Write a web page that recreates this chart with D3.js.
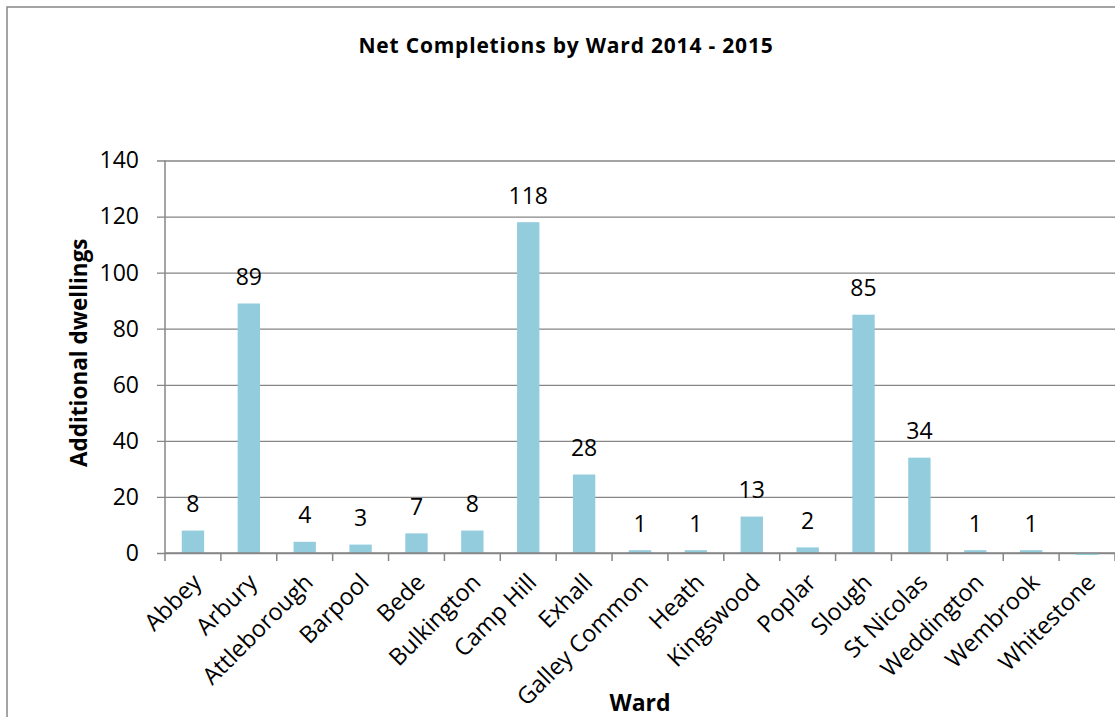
<!DOCTYPE html>
<html>
<head>
<meta charset="utf-8">
<script src="https://cdn.jsdelivr.net/npm/d3@7"></script>
<style>
  html, body { margin: 0; padding: 0; background: #fff; }
  svg { display: block; }
  text { font-family: "Open Sans", "Noto Sans", sans-serif; fill: #000; }
</style>
</head>
<body>
<svg id="chart" width="1115" height="717"></svg>
<script>
// Net completions per ward, 2014 - 2015
const wards = ["Abbey", "Arbury", "Attleborough", "Barpool", "Bede", "Bulkington",
  "Camp Hill", "Exhall", "Galley Common", "Heath", "Kingswood", "Poplar",
  "Slough", "St Nicolas", "Weddington", "Wembrook", "Whitestone"];
const completions = [8, 89, 4, 3, 7, 8, 118, 28, 1, 1, 13, 2, 85, 34, 1, 1, -0.7];
const yTicks = [0, 20, 40, 60, 80, 100, 120, 140];

const titleText = "Net Completions by Ward 2014 - 2015";
const xTitle = "Ward";
const yTitle = "Additional dwellings";

const svg = d3.select("#chart");
const W = 1115, H = 717;
const plot = { left: 165, right: 1115, top: 160.5, bottom: 553 };
const gridColor = "#868686";
const barColor = "#93CDDD";

// outer chart frame (extends past the visible area on the right and bottom)
svg.append("rect")
  .attr("x", 7).attr("y", 7)
  .attr("width", W + 20).attr("height", H + 20)
  .attr("fill", "none").attr("stroke", gridColor).attr("stroke-width", 1.5);

const x = d3.scaleBand()
  .domain(wards)
  .range([plot.left, plot.right])
  .paddingInner(0.6)
  .paddingOuter(0.3);

const y = d3.scaleLinear()
  .domain([0, 140])
  .range([plot.bottom, plot.top]);

// horizontal gridlines with tick stubs to the left
const yAxis = d3.axisLeft(y)
  .tickValues(yTicks)
  .tickSize(-(plot.right - plot.left))
  .tickSizeOuter(0)
  .tickPadding(26)
  .tickFormat(d3.format("d"));

const gy = svg.append("g")
  .attr("transform", `translate(${plot.left},0)`)
  .call(yAxis);
gy.select(".domain").remove();
gy.selectAll(".tick line")
  .attr("x1", -8)
  .attr("stroke", gridColor).attr("stroke-width", 1.3);
gy.selectAll(".tick text")
  .style("font-size", "23px")
  .style("font-family", "'Open Sans', sans-serif");

// vertical axis line
svg.append("line")
  .attr("x1", plot.left).attr("x2", plot.left)
  .attr("y1", plot.top).attr("y2", plot.bottom)
  .attr("stroke", gridColor).attr("stroke-width", 1.5);

// bars
svg.append("g").selectAll("rect")
  .data(wards.map((w, i) => ({ ward: w, value: completions[i] })))
  .join("rect")
  .attr("x", d => x(d.ward))
  .attr("width", x.bandwidth())
  .attr("y", d => y(Math.max(0, d.value)))
  .attr("height", d => Math.abs(y(d.value) - y(0)))
  .attr("fill", barColor);

// category axis with ticks at band boundaries
const step = x.step();
const boundaries = d3.range(wards.length + 1).map(i => plot.left + i * step);
svg.append("line")
  .attr("x1", plot.left).attr("x2", plot.right)
  .attr("y1", plot.bottom).attr("y2", plot.bottom)
  .attr("stroke", gridColor).attr("stroke-width", 1.5);
svg.append("g").selectAll("line")
  .data(boundaries)
  .join("line")
  .attr("x1", d => d).attr("x2", d => d)
  .attr("y1", plot.bottom).attr("y2", plot.bottom + 8)
  .attr("stroke", gridColor).attr("stroke-width", 1.5);

// rotated ward labels
svg.append("g").selectAll("text")
  .data(wards)
  .join("text")
  .attr("transform", d => `translate(${x(d) + x.bandwidth() / 2 + 4},${plot.bottom + 25}) rotate(-45)`)
  .attr("text-anchor", "end")
  .attr("dy", "0.35em")
  .style("font-size", "23.5px")
  .text(d => d);

// value labels above bars
svg.append("g").selectAll("text")
  .data(wards.map((w, i) => ({ ward: w, value: completions[i] })).filter(d => d.value > 0))
  .join("text")
  .attr("x", d => x(d.ward) + x.bandwidth() / 2)
  .attr("y", d => y(d.value) - 18.5)
  .attr("text-anchor", "middle")
  .style("font-size", "23px")
  .text(d => d.value);

// titles
svg.append("text")
  .attr("x", 566).attr("y", 53)
  .attr("text-anchor", "middle")
  .style("font-size", "21px").style("font-weight", "bold")
  .style("letter-spacing", "0.8px")
  .text(titleText);

svg.append("text")
  .attr("x", (plot.left + plot.right) / 2).attr("y", 711)
  .attr("text-anchor", "middle")
  .style("font-size", "23px").style("font-weight", "bold")
  .text(xTitle);

svg.append("text")
  .attr("transform", `translate(87,${(plot.top + plot.bottom) / 2 - 4}) rotate(-90)`)
  .attr("text-anchor", "middle")
  .style("font-size", "22.5px").style("font-weight", "bold")
  .text(yTitle);
</script>
</body>
</html>
